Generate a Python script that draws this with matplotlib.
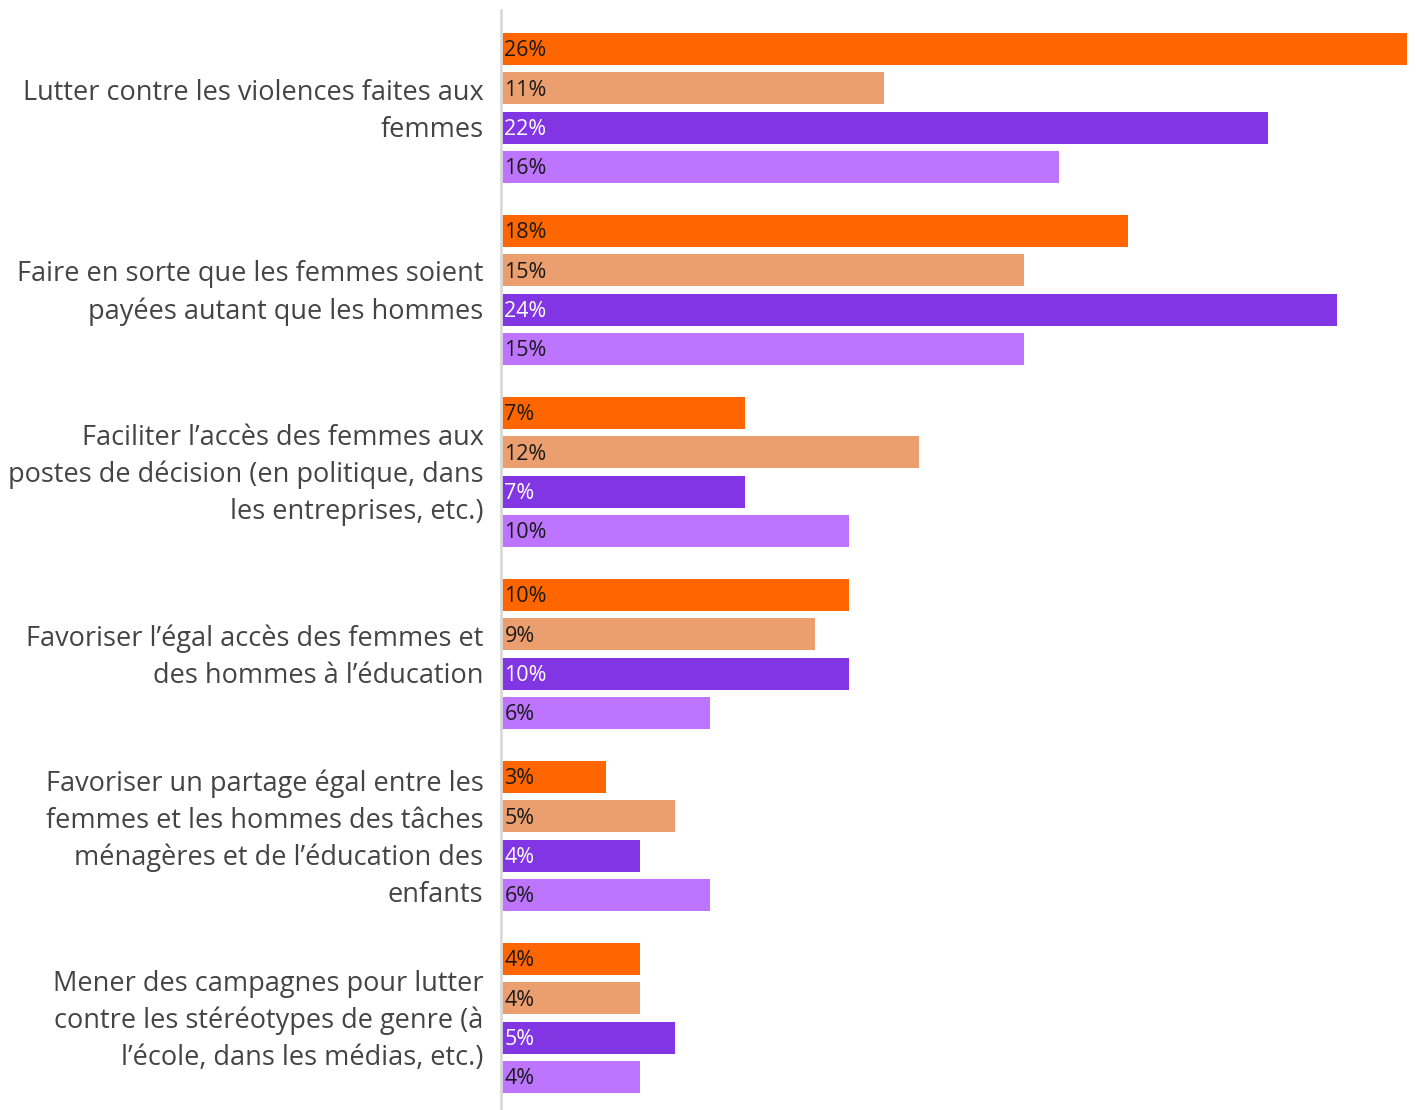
import numpy as np
import matplotlib.pyplot as plt

plt.rcParams['font.family'] = ['Open Sans', 'DejaVu Sans']

# data
categories = [
    "Lutter contre les violences faites aux\nfemmes",
    "Faire en sorte que les femmes soient\npayées autant que les hommes",
    "Faciliter l\u2019accès des femmes aux\npostes de décision (en politique, dans\nles entreprises, etc.)",
    "Favoriser l\u2019égal accès des femmes et\ndes hommes à l\u2019éducation",
    "Favoriser un partage égal entre les\nfemmes et les hommes des tâches\nménagères et de l\u2019éducation des\nenfants",
    "Mener des campagnes pour lutter\ncontre les stéréotypes de genre (à\nl\u2019école, dans les médias, etc.)",
]
serie1 = [26, 18, 7, 10, 3, 4]
serie2 = [11, 15, 12, 9, 5, 4]
serie3 = [22, 24, 7, 10, 4, 5]
serie4 = [16, 15, 10, 6, 6, 4]

series = [serie1, serie2, serie3, serie4]
colors = ['#FF6600', '#EB9E6E', '#8235E3', '#BD75FF']
txt_colors = ['#1a1a1a', '#1a1a1a', '#ffffff', '#1a1a1a']

W, H = 1416, 1110
fig = plt.figure(figsize=(W / 100, H / 100), dpi=100)
ax = fig.add_axes([501 / W, 0, (1407 - 501) / W, (1110 - 10) / H])

gap = 4.627  # group pitch in bar units
for j, (vals, c, tc) in enumerate(zip(series, colors, txt_colors)):
    ys = np.arange(len(categories)) * gap + j
    ax.barh(ys, vals, height=0.81, color=c)
    for y, v in zip(ys, vals):
        ax.text(0.1, y + 0.05, f"{v}%", va='center', ha='left', fontsize=15.5, color=tc)

centers = np.arange(len(categories)) * gap + 1.5
for y, lab in zip(centers, categories):
    ax.text(-0.5, y + 0.08, lab, ha='right', va='center', fontsize=19.5,
            color='#444444', linespacing=1.42)

ax.set_xlim(0, 26)
ax.set_ylim(5 * gap + 3 + 0.84, -0.99)
for s in ['top', 'right', 'bottom']:
    ax.spines[s].set_visible(False)
ax.spines['left'].set_color('#d9d9d9')
ax.spines['left'].set_linewidth(2)
ax.set_xticks([])
ax.set_yticks([])

fig.savefig('out.png', dpi=100)
